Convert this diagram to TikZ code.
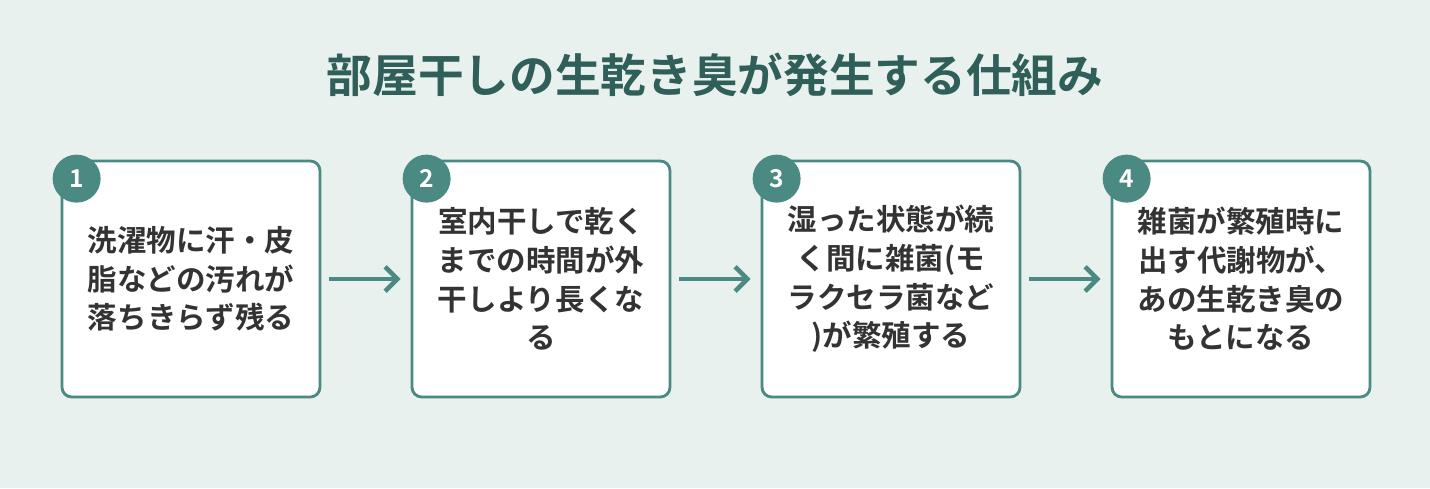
\documentclass[tikz,border=0pt]{standalone}
\usepackage{fontspec}
\setmainfont{Noto Sans CJK JP}[BoldFont={Noto Sans CJK JP Bold}]
\usetikzlibrary{arrows.meta,positioning,calc}
\definecolor{bgcol}{HTML}{E8F1EE}
\definecolor{teal}{HTML}{4A8A82}
\definecolor{titlecol}{HTML}{2F5F58}
\definecolor{txtcol}{HTML}{333333}
\tikzset{
  stepbox/.style={draw=teal,line width=1.6pt,fill=white,rounded corners=5.5pt,
    minimum width=5.16cm,minimum height=4.72cm,inner sep=0pt},
  steptext/.style={font=\bfseries\fontsize{16.8}{22}\selectfont,text=txtcol,align=center},
  badge/.style={circle,fill=teal,minimum size=0.96cm,inner sep=0pt,
    text=white,font=\bfseries\fontsize{14}{14}\selectfont},
  flow/.style={draw=teal,line width=2.6pt,-{Straight Barb[length=7pt,width=14pt,line width=2.6pt]}}
}
\begin{document}
\begin{tikzpicture}[x=0.02cm,y=-0.02cm]
  \fill[bgcol] (0,0) rectangle (1430,488);
  \useasboundingbox (0,0) rectangle (1430,488);
  \node[font=\bfseries\fontsize{26}{26}\selectfont,text=titlecol] (title) at (715,75)
    {部屋干しの生乾き臭が発生する仕組み};

  \node[stepbox] (s1) at (191,279) {};
  \node[stepbox] (s2) at (541,279) {};
  \node[stepbox] (s3) at (891,279) {};
  \node[stepbox] (s4) at (1241,279) {};

  \node[steptext] (t1) at (s1) {洗濯物に汗・皮\\脂などの汚れが\\落ちきらず残る};
  \node[steptext] (t2) at (s2) {室内干しで乾く\\までの時間が外\\干しより長くな\\る};
  \node[steptext] (t3) at (s3) {湿った状態が続\\く間に雑菌(モ\\ラクセラ菌など\\)が繁殖する};
  \node[steptext] (t4) at (s4) {雑菌が繁殖時に\\出す代謝物が、\\あの生乾き臭の\\もとになる};

  \foreach \n in {1,2,3,4}
    \node[badge] (b\n) at ($(s\n.north west)+(16,19)$) {\n};

  \foreach \from/\to in {s1/s2,s2/s3,s3/s4}
    \draw[flow] ([xshift=0.16cm]\from.east) -- ([xshift=-0.2cm]\to.west);
\end{tikzpicture}
\end{document}
